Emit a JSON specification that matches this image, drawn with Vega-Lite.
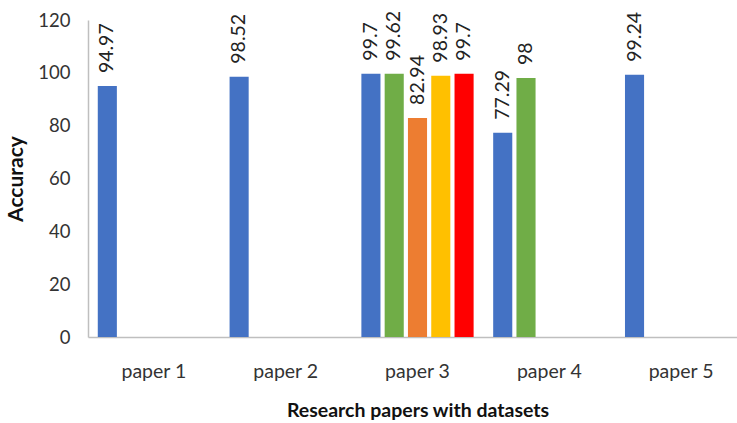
{
  "$schema": "https://vega.github.io/schema/vega-lite/v6.json",
  "width": 649,
  "height": 317,
  "autosize": "none",
  "padding": {"left": 88, "top": 20, "right": 0, "bottom": 86},
  "background": "white",
  "data": {
    "values": [
      {"paper": "paper 1", "series": "dataset 1", "value": 94.97},
      {"paper": "paper 2", "series": "dataset 1", "value": 98.52},
      {"paper": "paper 3", "series": "dataset 1", "value": 99.7},
      {"paper": "paper 3", "series": "dataset 2", "value": 99.62},
      {"paper": "paper 3", "series": "dataset 3", "value": 82.94},
      {"paper": "paper 3", "series": "dataset 4", "value": 98.93},
      {"paper": "paper 3", "series": "dataset 5", "value": 99.7},
      {"paper": "paper 4", "series": "dataset 1", "value": 77.29},
      {"paper": "paper 4", "series": "dataset 2", "value": 98},
      {"paper": "paper 5", "series": "dataset 1", "value": 99.24}
    ]
  },
  "encoding": {
    "x": {
      "field": "paper",
      "type": "nominal",
      "sort": ["paper 1", "paper 2", "paper 3", "paper 4", "paper 5"],
      "scale": {"range": [0, 659], "paddingInner": 0, "paddingOuter": 0},
      "title": "Research papers with datasets",
      "axis": {
        "labelAngle": 0,
        "labelFont": "Lato",
        "labelFontSize": 19.5,
        "labelColor": "#333333",
        "labelPadding": 25,
        "titleFont": "Lato",
        "titleFontSize": 19.5,
        "titleFontWeight": "bold",
        "titleColor": "#111111",
        "titlePadding": 21,
        "domainColor": "#bfbfbf",
        "domainWidth": 1.5,
        "ticks": false
      }
    },
    "xOffset": {
      "field": "series",
      "type": "nominal",
      "sort": ["dataset 1", "dataset 2", "dataset 3", "dataset 4", "dataset 5"],
      "scale": {"paddingInner": 0.18, "paddingOuter": 0.42}
    },
    "y": {
      "field": "value",
      "type": "quantitative",
      "scale": {"domain": [0, 120], "nice": false},
      "title": "Accuracy",
      "axis": {
        "values": [0, 20, 40, 60, 80, 100, 120],
        "grid": false,
        "ticks": false,
        "labelFont": "Lato",
        "labelFontSize": 18.5,
        "labelColor": "#333333",
        "labelPadding": 18,
        "titleFont": "Lato",
        "titleFontSize": 21,
        "titleFontWeight": "bold",
        "titleColor": "#111111",
        "titlePadding": 11,
        "domainColor": "#bfbfbf",
        "domainWidth": 1.5
      }
    }
  },
  "layer": [
    {
      "mark": {"type": "bar"},
      "encoding": {
        "color": {
          "field": "series",
          "type": "nominal",
          "scale": {
            "domain": ["dataset 1", "dataset 2", "dataset 3", "dataset 4", "dataset 5"],
            "range": ["#4472C4", "#70AD47", "#ED7D31", "#FFC000", "#FF0000"]
          },
          "legend": null
        }
      }
    },
    {
      "mark": {
        "type": "text",
        "angle": -90,
        "align": "left",
        "baseline": "middle",
        "dx": 13,
        "font": "Lato",
        "fontSize": 19.5,
        "color": "#222222"
      },
      "encoding": {
        "text": {"field": "value", "type": "nominal"}
      }
    }
  ],
  "config": {"view": {"stroke": null}}
}
